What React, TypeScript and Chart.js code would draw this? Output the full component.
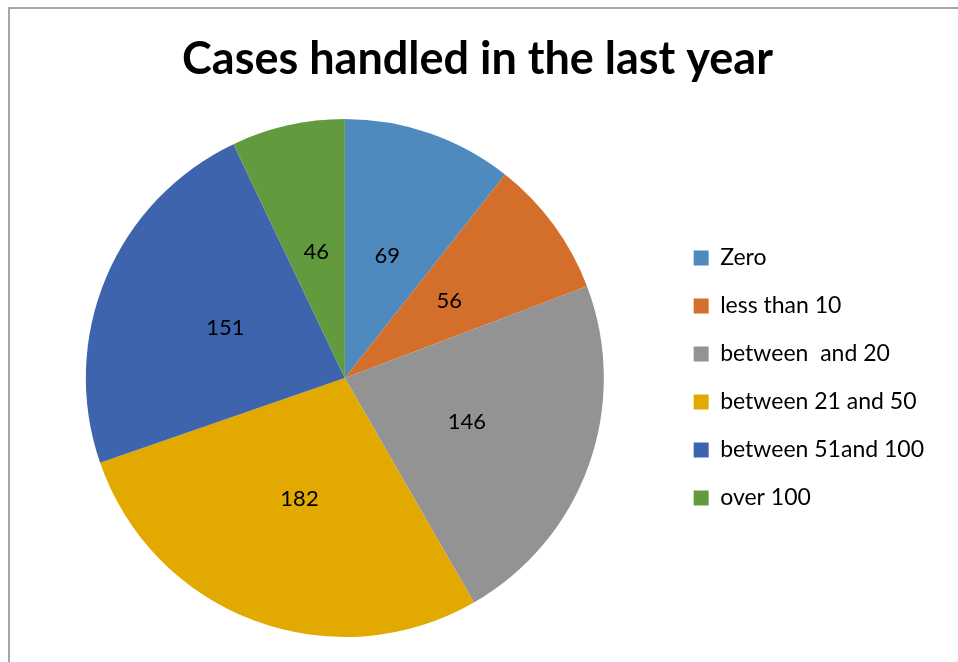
import React, { useEffect, useRef } from "react";
import { Chart, registerables } from "chart.js";

Chart.register(...registerables);

const categories = ["Zero", "less than 10", "between  and 20", "between 21 and 50", "between 51and 100", "over 100"];
const cases = [69, 56, 146, 182, 151, 46];
const sliceColors = ["#4F8ABF", "#D46F2B", "#939393", "#E2AA00", "#3E64AE", "#619B3E"];
const titleText = "Cases handled in the last year";

const FONT = "Lato, 'Open Sans', sans-serif";

const sliceLabels = {
  id: "sliceLabels",
  afterDatasetsDraw(chart: any) {
    const ctx = chart.ctx;
    const meta = chart.getDatasetMeta(0);
    const data = chart.data.datasets[0].data;
    ctx.save();
    ctx.fillStyle = "#000";
    ctx.font = `22px ${FONT}`;
    ctx.textAlign = "center";
    ctx.textBaseline = "middle";
    meta.data.forEach((arc: any, i: number) => {
      const p = arc.tooltipPosition();
      ctx.fillText(String(data[i]), p.x, p.y);
    });
    ctx.restore();
  },
};

export default function App() {
  const ref = useRef<HTMLCanvasElement>(null);
  useEffect(() => {
    if (!ref.current) return;
    const chart = new Chart(ref.current, {
      type: "pie",
      data: {
        labels: categories,
        datasets: [
          {
            data: cases,
            backgroundColor: sliceColors,
            borderWidth: 0,
          },
        ],
      },
      options: {
        responsive: false,
        animation: false,
        layout: { padding: { left: 21, right: 24, top: 0, bottom: 25 } },
        plugins: {
          title: {
            display: true,
            text: titleText,
            color: "#000",
            font: { family: FONT, size: 45, weight: "bold" },
            padding: { top: 32, bottom: 33 },
          },
          legend: {
            position: "right",
            fullSize: false,
            labels: {
              color: "#000",
              font: { family: FONT, size: 23 },
              boxWidth: 15,
              boxHeight: 15,
              padding: 25,
            },
          },
          tooltip: { enabled: false },
        },
      },
      plugins: [sliceLabels],
    });
    return () => chart.destroy();
  }, []);
  return (
    <div style={{ position: "fixed", left: 0, top: 0, width: 958, height: 662, overflow: "hidden", background: "#fff" }}>
      <div style={{ position: "absolute", left: 8, top: 7, width: 1000, height: 700, borderTop: "2px solid #a6a6a6", borderLeft: "2px solid #a6a6a6" }} />
      <canvas ref={ref} width={958} height={662} style={{ position: "absolute", left: 0, top: 0 }} />
    </div>
  );
}
